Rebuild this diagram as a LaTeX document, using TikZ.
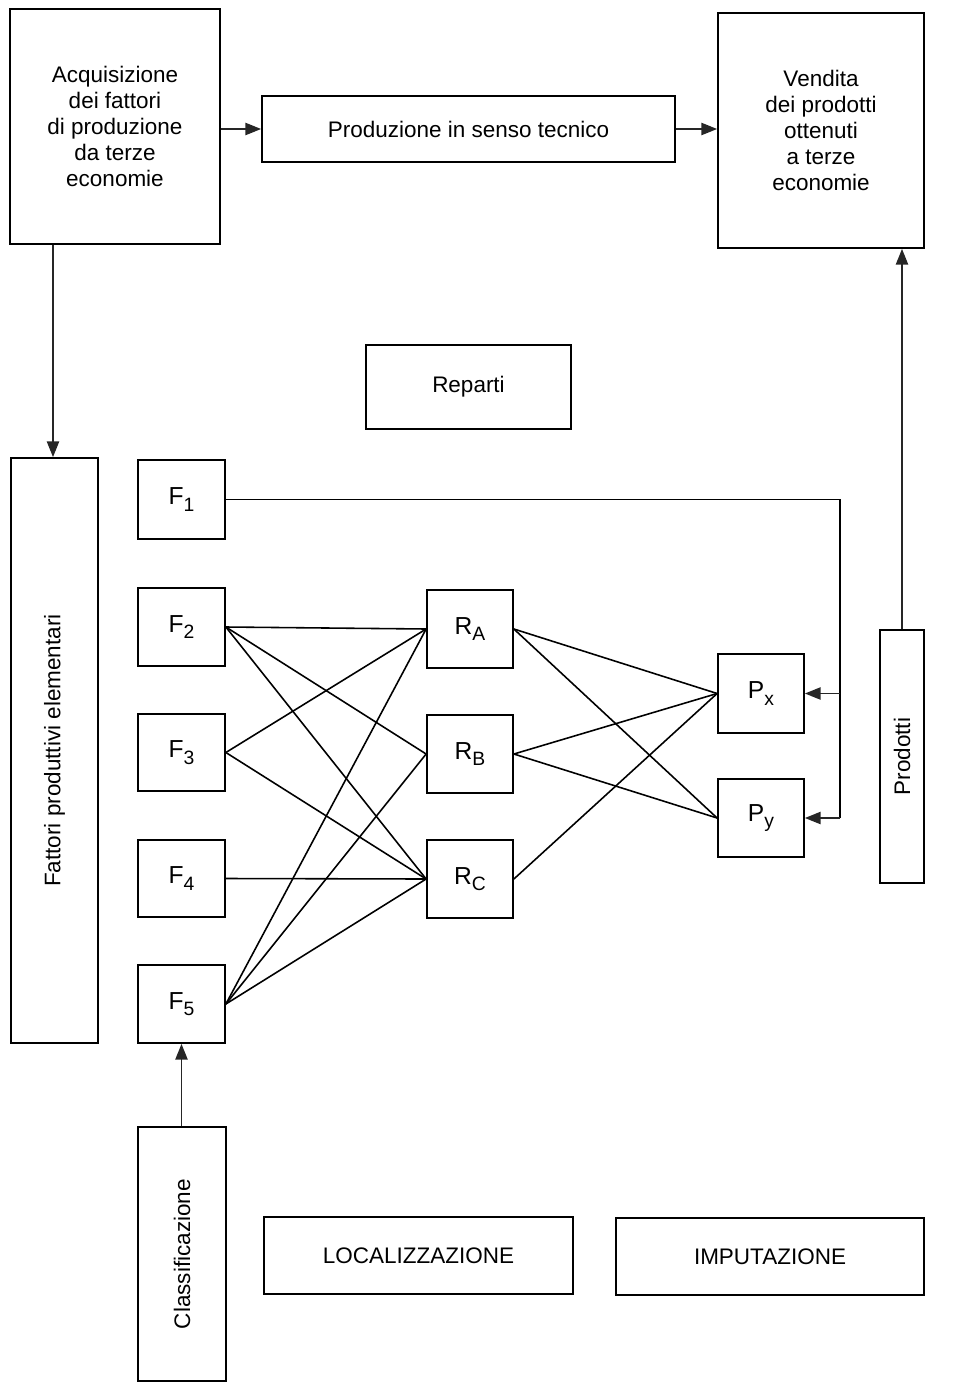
\documentclass[tikz,border=0pt]{standalone}
\usepackage{fontspec}
\setmainfont{Liberation Sans}
\usetikzlibrary{arrows.meta}
\newcommand{\bx}[6]{\node[box, minimum width={(#4-#2)*0.02cm}, minimum height={(#5-#3)*0.02cm}] (#1) at ({(#2+#4)/2},{(#3+#5)/2}) {#6};}
\newcommand{\sub}[2]{{\fontsize{14}{16}\selectfont #1\raisebox{-0.5ex}{\fontsize{11}{12}\selectfont #2}}}
\begin{document}
\begin{tikzpicture}[x=0.02cm,y=-0.02cm,
  box/.style={draw, line width=1pt, inner sep=0pt, align=center, font=\fontsize{12.8}{14.7}\selectfont},
  conn/.style={line width=0.9pt},
  arr/.style={line width=0.9pt, -{Triangle[length=9pt,width=7pt]}, draw=black!85, fill=black!75}]
\useasboundingbox (0,0) rectangle (964,1386);
\bx{acq}{10}{9}{220}{244}{Acquisizione\\dei fattori\\di produzione\\da terze\\economie}
\bx{prod}{262}{96}{675}{162}{Produzione in senso tecnico}
\bx{ven}{718}{13}{924}{248}{Vendita\\dei prodotti\\ottenuti\\a terze\\economie}
\bx{rep}{366}{345}{571}{429}{Reparti}
\bx{fat}{11}{458}{98}{1043}{\rotatebox{90}{Fattori produttivi elementari}}
\bx{f1}{138}{460}{225}{539}{\sub{F}{1}}
\bx{f2}{138}{588}{225}{666}{\sub{F}{2}}
\bx{f3}{138}{714}{225}{791}{\sub{F}{3}}
\bx{f4}{138}{840}{225}{917}{\sub{F}{4}}
\bx{f5}{138}{965}{225}{1043}{\sub{F}{5}}
\bx{ra}{427}{590}{513}{668}{\sub{R}{A}}
\bx{rb}{427}{715}{513}{793}{\sub{R}{B}}
\bx{rc}{427}{840}{513}{918}{\sub{R}{C}}
\bx{px}{718}{654}{804}{733}{\sub{P}{x}}
\bx{py}{718}{779}{804}{857}{\sub{P}{y}}
\bx{pro}{880}{630}{924}{883}{\rotatebox{90}{Prodotti}}
\bx{cla}{138}{1127}{226}{1381}{\rotatebox{90}{Classificazione}}
\bx{loc}{264}{1217}{573}{1294}{LOCALIZZAZIONE}
\bx{imp}{616}{1218}{924}{1295}{IMPUTAZIONE}
% top arrows
\draw[arr] (acq.east |- prod.west) -- (prod.west);
\draw[arr] (prod.east) -- (prod.east -| ven.west);
\draw[arr] (53,0 |- acq.south) -- (53,0 |- fat.north);
\draw[arr] (pro.north) -- (pro.north |- ven.south);
\draw[arr] (cla.north -| f5.south) -- (f5.south);
% F1 feed to products
\coordinate (c1) at (840,0 |- f1.east);
\coordinate (c2) at (840,0 |- py.east);
\draw[conn] (f1.east) -- (c1) -- (c2);
\draw[arr] (c2) -- (py.east);
\draw[arr] (840,0 |- px.east) -- (px.east);
% F to R
\foreach \a/\b in {f2/ra,f2/rb,f2/rc,f3/ra,f3/rc,f4/rc,f5/ra,f5/rb,f5/rc}
  \draw[conn] (\a.east) -- (\b.west);
% R to P
\foreach \a/\b in {ra/px,ra/py,rb/px,rb/py,rc/px}
  \draw[conn] (\a.east) -- (\b.west);
\end{tikzpicture}
\end{document}
